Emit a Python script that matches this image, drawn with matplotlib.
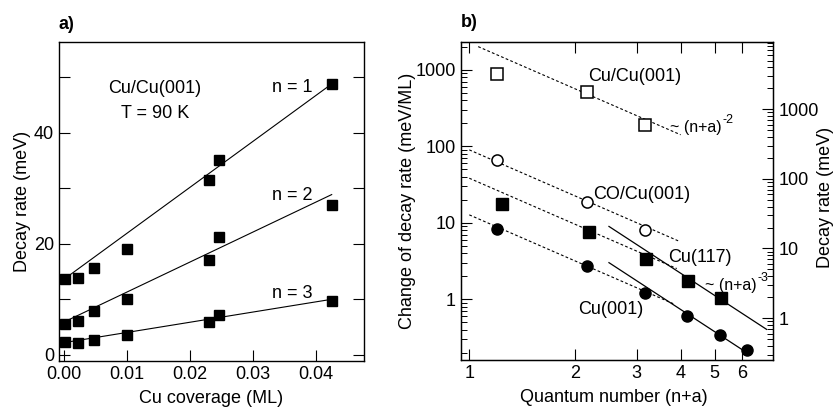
import matplotlib.pyplot as plt
import numpy as np
from matplotlib.ticker import FuncFormatter, NullFormatter

plt.rcParams.update({
    "font.family": ["Liberation Sans", "DejaVu Sans"],
    "xtick.direction": "in",
    "ytick.direction": "in",
})

FS = 13

# (a) decay rate vs Cu coverage
coverage = [0.0002, 0.0023, 0.0048, 0.0100, 0.0231, 0.0247, 0.0426]
rate_n1 = [13.6, 13.8, 15.6, 19.0, 31.6, 35.1, 48.8]
rate_n2 = [5.6, 6.1, 8.0, 10.0, 17.1, 21.3, 27.1]
rate_n3 = [2.3, 2.1, 2.7, 3.5, 5.9, 7.1, 9.8]
fit_intercept = [13.6, 5.9, 2.2]
fit_slope = [829, 541, 184]
fit_range = (0.0, 0.0425)

# (b) change of decay rate vs quantum number
nq_open = [1.196, 2.17, 3.17]
cucu001 = [887, 521, 190]
co_cu001 = [66.4, 18.9, 8.07]
nq_cu117 = [1.239, 2.19, 3.19, 4.20, 5.21]
cu117 = [17.7, 7.67, 3.33, 1.75, 1.05]
nq_cu001 = [1.196, 2.17, 3.17, 4.16, 5.18, 6.19]
cu001 = [8.4, 2.73, 1.20, 0.605, 0.341, 0.217]
# ~ (n+a)^-2 guides: prefactor, start, end
guide2 = [(2270, 1.06, 4.0), (90, 1.0, 3.94), (38.3, 1.0, 3.9), (12.7, 1.0, 3.81)]
# ~ (n+a)^-3 guides
guide3 = [(140, 2.5, 7.03), (47, 2.5, 6.24)]

plain = FuncFormatter(lambda v, _: f"{v:g}")


def power_label(ax, x, y, expo):
    """'~ (n+a)' with a small raised exponent after it."""
    base = ax.text(x, y, "~ (n+a)", transform=ax.transAxes, va="center", fontsize=11.5)
    ax.annotate(expo, xy=(1.0, 0.62), xycoords=base, xytext=(0.5, 0),
                textcoords="offset points", va="bottom", fontsize=9)


fig = plt.figure(figsize=(8.33, 4.08), dpi=100)
axa = fig.add_axes([0.0708, 0.1152, 0.366, 0.782])
axb = fig.add_axes([0.5534, 0.1176, 0.375, 0.7794])

# ---- panel a
msq = dict(marker="s", ms=7, color="k", ls="none")
for vals in (rate_n1, rate_n2, rate_n3):
    axa.plot(coverage, vals, **msq)
xf = np.array(fit_range)
for b0, k in zip(fit_intercept, fit_slope):
    axa.plot(xf, b0 + k * xf, color="k", lw=0.8)

axa.set_xlim(-0.00075, 0.0476)
axa.set_ylim(-1.1, 56.4)
axa.set_xticks([0.0, 0.01, 0.02, 0.03, 0.04])
axa.set_xticklabels(["0.00", "0.01", "0.02", "0.03", "0.04"])
axa.set_yticks([0, 20, 40])
axa.set_yticks([10, 30, 50], minor=True)
axa.tick_params(which="both", length=8, width=0.8, labelsize=FS,
                left=True, right=True, bottom=True, top=False)
axa.set_xlabel("Cu coverage (ML)", fontsize=FS, va="center")
axa.set_ylabel("Decay rate (meV)", fontsize=FS, va="center")
axa.xaxis.set_label_coords(0.5, -0.116)
axa.yaxis.set_label_coords(-0.119, 0.5)

axa.text(0.315, 0.853, "Cu/Cu(001)", transform=axa.transAxes, ha="center", va="center", fontsize=FS)
axa.text(0.315, 0.777, "T = 90 K", transform=axa.transAxes, ha="center", va="center", fontsize=FS)
for lab, yy in (("n = 1", 0.856), ("n = 2", 0.520), ("n = 3", 0.213)):
    axa.text(0.764, yy, lab, transform=axa.transAxes, ha="center", va="center", fontsize=FS)
axa.text(0.0, 1.055, "a)", transform=axa.transAxes, ha="left", va="center",
         fontsize=FS, fontweight="bold")

# ---- panel b
axb.set_xscale("log")
axb.set_yscale("log")
for a0, x0, x1 in guide2:
    xs = np.array([x0, x1])
    axb.plot(xs, a0 * xs ** -2.0, color="k", lw=0.8, ls=(0, (2.5, 2)))
for a0, x0, x1 in guide3:
    xs = np.array([x0, x1])
    axb.plot(xs, a0 * xs ** -3.0, color="k", lw=0.9)

axb.plot(nq_open, cucu001, marker="s", ms=8, mfc="white", mec="k", mew=1.1, ls="none")
axb.plot(nq_open, co_cu001, marker="o", ms=8, mfc="white", mec="k", mew=1.1, ls="none")
axb.plot(nq_cu117, cu117, marker="s", ms=8.5, color="k", ls="none")
axb.plot(nq_cu001, cu001, marker="o", ms=8, color="k", ls="none")

axb.set_xlim(0.947, 7.35)
axb.set_ylim(0.16, 2320)
axb.set_xticks([1, 2, 3, 4, 5, 6])
axb.set_xticklabels(["1", "2", "3", "4", "5", "6"])
axb.set_xticks([], minor=True)
axb.yaxis.set_major_formatter(plain)
axb.yaxis.set_minor_formatter(NullFormatter())
axb.tick_params(which="major", length=8, width=0.8, labelsize=FS, top=True, right=False)
axb.tick_params(which="minor", length=4, width=0.7, right=False)
axb.set_xlabel("Quantum number (n+a)", fontsize=FS, va="center")
axb.set_ylabel("Change of decay rate (meV/ML)", fontsize=FS, va="center")
axb.xaxis.set_label_coords(0.488, -0.119)
axb.yaxis.set_label_coords(-0.17, 0.5)

axr = axb.twinx()
axr.set_yscale("log")
axr.set_ylim(0.25, 9250)
axr.yaxis.set_major_formatter(plain)
axr.yaxis.set_minor_formatter(NullFormatter())
axr.tick_params(which="major", length=8, width=0.8, labelsize=FS)
axr.tick_params(which="minor", length=4, width=0.7)
axr.set_ylabel("Decay rate (meV)", fontsize=FS, va="center")
axr.yaxis.set_label_coords(1.166, 0.51)

for sp in list(axa.spines.values()) + list(axb.spines.values()):
    sp.set_linewidth(1.0)

tb = dict(transform=axb.transAxes, va="center", fontsize=FS)
axb.text(0.4076, 0.891, "Cu/Cu(001)", **tb)
axb.text(0.4217, 0.521, "CO/Cu(001)", **tb)
axb.text(0.664, 0.322, "Cu(117)", **tb)
axb.text(0.3756, 0.160, "Cu(001)", **tb)
power_label(axb, 0.669, 0.730, "-2")
power_label(axb, 0.781, 0.233, "-3")
axb.text(0.0, 1.06, "b)", transform=axb.transAxes, ha="left", va="center",
         fontsize=FS, fontweight="bold")

fig.savefig("out.png", dpi=100)
